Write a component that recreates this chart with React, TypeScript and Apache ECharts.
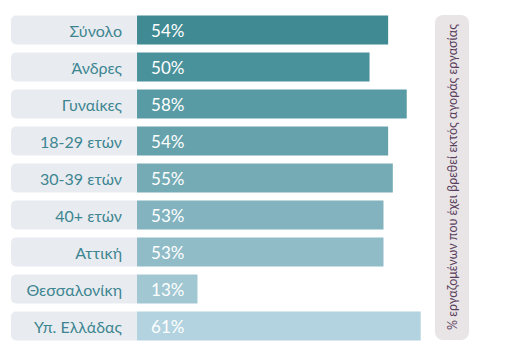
import React, { useEffect, useRef } from "react";
import * as echarts from "echarts";

const categories = ["Σύνολο", "Άνδρες", "Γυναίκες", "18-29 ετών", "30-39 ετών", "40+ ετών", "Αττική", "Θεσσαλονίκη", "Υπ. Ελλάδας"];
const values = [54, 50, 58, 54, 55, 53, 53, 13, 61];
const sideTitle = "% εργαζομένων που έχει βρεθεί εκτός αγοράς εργασίας";
const barColors = ["#3F8A93", "#4A929B", "#599BA4", "#66A2AC", "#74ABB5", "#82B3BF", "#90BCC8", "#A1C7D2", "#B2D3DF"];
const LABEL_SPAN = -27.1;

export default function App() {
  const ref = useRef<HTMLDivElement>(null);
  useEffect(() => {
    if (!ref.current) return;
    const chart = echarts.init(ref.current, null, { renderer: "svg" });
    const font = "Lato, 'Noto Sans', sans-serif";
    chart.setOption({
      animation: false,
      grid: { left: 11, width: 419, top: 11.5, height: 333, containLabel: false },
      xAxis: {
        type: "value",
        min: LABEL_SPAN,
        max: 63,
        show: false,
      },
      yAxis: {
        type: "category",
        data: categories,
        inverse: true,
        offset: -126,
        axisLine: { show: false },
        axisTick: { show: false },
        axisLabel: { color: "#3D8590", fontSize: 16, fontFamily: font, margin: 15 },
        z: 10,
      },
      series: [
        {
          type: "bar",
          data: categories.map(() => LABEL_SPAN),
          barWidth: 29,
          barGap: "-100%",
          itemStyle: { color: "#E8ECF1", borderRadius: [5, 0, 0, 5] },
          silent: true,
        },
        {
          type: "bar",
          data: values.map((v, i) => ({ value: v, itemStyle: { color: barColors[i] } })),
          barWidth: 29,
          label: {
            show: true,
            position: "insideLeft",
            distance: 14,
            formatter: "{c}%",
            color: "#FFFFFF",
            fontSize: 17,
            fontFamily: font,
          },
        },
      ],
      graphic: [
        {
          type: "rect",
          shape: { x: 435, y: 15, width: 34, height: 325, r: 8 },
          style: { fill: "#E9E5E6" },
        },
        {
          type: "text",
          x: 452,
          y: 177,
          rotation: Math.PI / 2,
          style: {
            text: sideTitle,
            fill: "#5B3F5E",
            font: "12.5px " + font,
            textAlign: "center",
            textVerticalAlign: "middle",
          },
        },
      ],
    });
    return () => chart.dispose();
  }, []);
  return <div ref={ref} style={{ position: "absolute", left: 0, top: 0, width: 512, height: 356 }} />;
}
